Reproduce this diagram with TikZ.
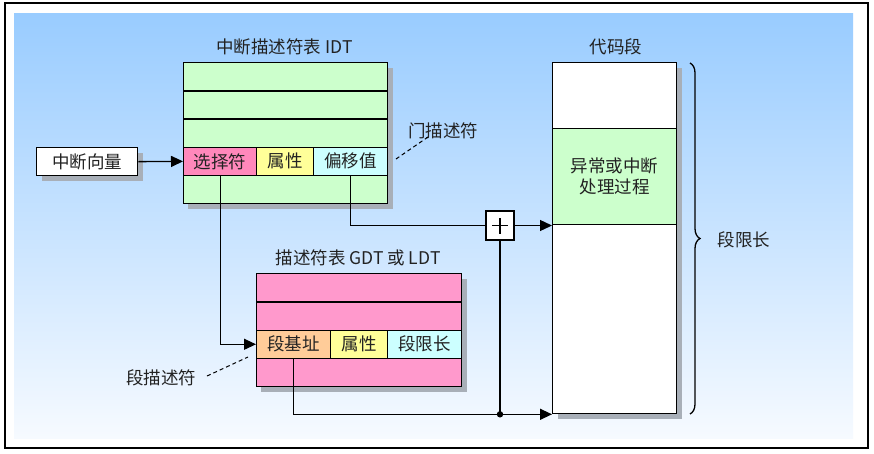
\documentclass[tikz,border=0pt]{standalone}
\usepackage{fontspec}
\setmainfont{Noto Sans CJK SC}
\usetikzlibrary{arrows.meta,decorations.pathreplacing}
\definecolor{idtg}{HTML}{CCFFCC}
\definecolor{selp}{HTML}{FF88BB}
\definecolor{attry}{HTML}{FFFF99}
\definecolor{offc}{HTML}{CCFFFF}
\definecolor{gdtp}{HTML}{FF99CC}
\definecolor{baseo}{HTML}{FFCC99}
\definecolor{shadowc}{HTML}{A8AFB8}
\definecolor{txt}{HTML}{222222}
\definecolor{bgtop}{HTML}{99CCFF}
\definecolor{bgbot}{HTML}{F6FAFF}
\tikzset{
  cell/.style={draw=black, line width=1.3pt, rectangle, inner sep=0pt, anchor=north west, text=txt, font=\fontsize{17.5}{20}\selectfont},
  lbl/.style={text=txt, inner sep=0pt, font=\fontsize{17.5}{20}\selectfont},
  conn/.style={line width=1.3pt, draw=black},
  arr/.style={conn, -{Triangle[length=12pt,width=11pt]}},
  dashline/.style={line width=1pt, dash pattern=on 4pt off 3pt}
}
\begin{document}
\begin{tikzpicture}[x=1pt,y=-1pt]
\useasboundingbox (0,0) rectangle (874,453);
\fill[white] (0,0) rectangle (874,453);
\shade[top color=bgtop, bottom color=bgbot] (14,13) rectangle (853,438);
\draw[line width=2pt] (5,3) rectangle (868,448);
% shadows
\fill[shadowc] (42,153) rectangle (143,181);
\fill[shadowc] (188,68) rectangle (393,209);
\fill[shadowc] (261,279) rectangle (467,392);
\fill[shadowc] (558,68) rectangle (682,419);
% vector
\node[cell, fill=white, minimum width=101pt, minimum height=28pt] (vec) at (36,147) {中断向量};
% IDT
\node[lbl] (idtt) at (284.5,47) {中断描述符表 IDT};
\node[cell, fill=idtg, minimum width=204pt, minimum height=28.2pt] (i1) at (183,62) {};
\node[cell, fill=idtg, minimum width=204pt, minimum height=28.2pt] (i2) at (183,90.2) {};
\node[cell, fill=idtg, minimum width=204pt, minimum height=28.2pt] (i3) at (183,118.4) {};
\node[cell, fill=selp, minimum width=73pt, minimum height=28.2pt] (sel) at (183,146.6) {选择符};
\node[cell, fill=attry, minimum width=57pt, minimum height=28.2pt] (iatt) at (256,146.6) {属性};
\node[cell, fill=offc, minimum width=74pt, minimum height=28.2pt] (off) at (313,146.6) {偏移值};
\node[cell, fill=idtg, minimum width=204pt, minimum height=28.2pt] (i5) at (183,174.8) {};
% GDT
\node[lbl] (gdtt) at (358,258) {描述符表 GDT 或 LDT};
\node[cell, fill=gdtp, minimum width=205pt, minimum height=28.25pt] (g1) at (256,273) {};
\node[cell, fill=gdtp, minimum width=205pt, minimum height=28.25pt] (g2) at (256,301.25) {};
\node[cell, fill=baseo, minimum width=74pt, minimum height=28.25pt] (base) at (256,329.5) {段基址};
\node[cell, fill=attry, minimum width=57pt, minimum height=28.25pt] (gatt) at (330,329.5) {属性};
\node[cell, fill=offc, minimum width=74pt, minimum height=28.25pt] (lim) at (387,329.5) {段限长};
\node[cell, fill=gdtp, minimum width=205pt, minimum height=28.25pt] (g4) at (256,357.75) {};
% code segment
\node[lbl] (codet) at (616,47) {代码段};
\node[cell, fill=white, minimum width=124pt, minimum height=66pt] (c1) at (552,62) {};
\node[cell, fill=idtg, minimum width=124pt, minimum height=96pt, align=center] (c2) at (552,128) {异常或中断\\[1pt]处理过程};
\node[cell, fill=white, minimum width=124pt, minimum height=189pt] (c3) at (552,224) {};
% plus
\node[cell, fill=white, minimum width=28pt, minimum height=29pt, anchor=center] (plus) at (500,225.5) {};
\draw[line width=1.2pt] ([xshift=-8pt]plus.center) -- ([xshift=8pt]plus.center);
\draw[line width=1.2pt] ([yshift=-8pt]plus.center) -- ([yshift=8pt]plus.center);
% brace
\draw[line width=1.3pt, decorate, decoration={brace, amplitude=10pt}] (690,63) -- (690,414);
\node[lbl] (limt) at (744,240) {段限长};
% labels
\node[lbl] (gatel) at (443,131) {门描述符};
\node[lbl] (segl) at (161,378) {段描述符};
\coordinate (gs) at (396,159);
\coordinate (ge) at (428,137);
\coordinate (ss) at (207,376);
\coordinate (se) at (248,357);
\draw[dashline] (gs) -- (ge);
\draw[dashline] (ss) -- (se);
% connectors
\draw[arr] (vec.east) -- (sel.west);
\draw[arr] (sel.south) |- (base.west);
\draw[conn] (off.south) |- (plus.west);
\draw[arr] (plus.east) -- (plus.east -| c3.west);
\draw[arr] (base.south) |- (c3.south west);
\coordinate (j) at (plus.south |- c3.south west);
\draw[conn] (plus.south) -- (j);
\fill (j) circle (3.2pt);
\end{tikzpicture}
\end{document}
